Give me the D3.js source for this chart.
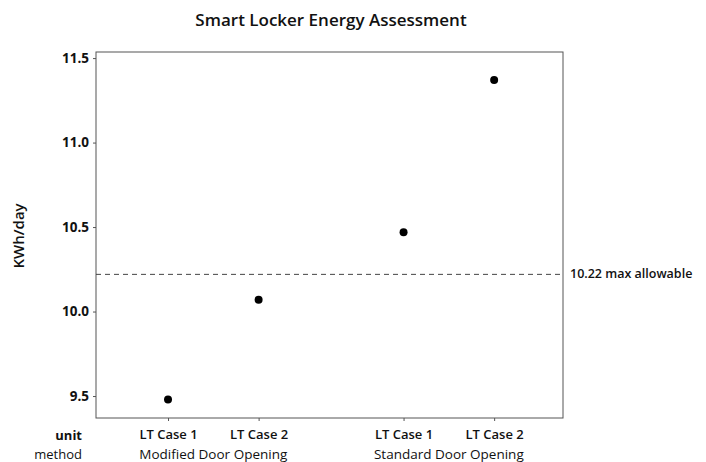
<html>
<head>
<meta charset="utf-8">
<script src="https://cdn.jsdelivr.net/npm/d3@7"></script>
<style>
  body { margin: 0; background: #fff; }
  text { font-family: "Open Sans", sans-serif; fill: #111; }
</style>
</head>
<body>
<script>
// data
var units   = ["LT Case 1", "LT Case 2", "LT Case 1", "LT Case 2"];
var methods = ["Modified Door Opening", "Modified Door Opening", "Standard Door Opening", "Standard Door Opening"];
var kwh     = [9.48, 10.07, 10.47, 11.37];
var slots   = [0, 1, 2.6, 3.6];          // minitab-style group spacing
var yTicks  = [9.5, 10.0, 10.5, 11.0, 11.5];
var refLine = 10.22;

var width = 706, height = 462;
var m = {left: 96, right: 563, top: 52, bottom: 418};

var svg = d3.select("body").append("svg")
    .attr("width", width)
    .attr("height", height);

var x = d3.scaleLinear().domain([-0.795, 4.36]).range([m.left, m.right]);
var y = d3.scaleLinear().domain([9.37, 11.536]).range([m.bottom, m.top]);

// title
svg.append("text")
    .attr("x", 331).attr("y", 26)
    .attr("text-anchor", "middle")
    .attr("font-size", 17)
    .attr("font-weight", 600)
    .text("Smart Locker Energy Assessment");

// frame
svg.append("rect")
    .attr("x", m.left).attr("y", m.top)
    .attr("width", m.right - m.left).attr("height", m.bottom - m.top)
    .attr("fill", "none")
    .attr("stroke", "#555")
    .attr("stroke-width", 1);

// y axis
var yAxis = d3.axisLeft(y).tickValues(yTicks).tickFormat(d3.format(".1f")).tickSize(3).tickPadding(4);
var gy = svg.append("g").attr("transform", "translate(" + m.left + ",0)").call(yAxis);
gy.select(".domain").remove();
gy.selectAll("line").attr("stroke", "#555");
gy.selectAll("text").attr("font-size", 13.5).attr("font-weight", 700)
    .style("font-family", "'Open Sans', sans-serif").attr("fill", "#111");

// x axis ticks (unit labels)
var xAxis = d3.axisBottom(x).tickValues(slots).tickFormat((d, i) => units[i]).tickSize(3).tickPadding(9);
var gx = svg.append("g").attr("transform", "translate(0," + m.bottom + ")").call(xAxis);
gx.select(".domain").remove();
gx.selectAll("line").attr("stroke", "#555");
gx.selectAll("text").attr("font-size", 13).attr("font-weight", 600)
    .style("font-family", "'Open Sans', sans-serif").attr("fill", "#111");

// method labels, centred under each group
var groups = d3.groups(slots.map((s, i) => ({s: s, m: methods[i]})), d => d.m);
svg.selectAll(".method")
    .data(groups)
    .join("text")
    .attr("class", "method")
    .attr("x", d => x(d3.mean(d[1], e => e.s)))
    .attr("y", 459)
    .attr("text-anchor", "middle")
    .attr("font-size", 13.5)
    .text(d => d[0]);

// row labels
svg.append("text").attr("x", 82).attr("y", 440).attr("text-anchor", "end")
    .attr("font-size", 13).attr("font-weight", 700).text("unit");
svg.append("text").attr("x", 82).attr("y", 459).attr("text-anchor", "end")
    .attr("font-size", 13).text("method");

// y title
svg.append("text")
    .attr("transform", "translate(24," + 236 + ") rotate(-90)")
    .attr("text-anchor", "middle")
    .attr("font-size", 15)
    .attr("font-weight", 600)
    .text("KWh/day");

// reference line
svg.append("line")
    .attr("x1", m.left).attr("x2", m.right)
    .attr("y1", y(refLine)).attr("y2", y(refLine))
    .attr("stroke", "#444")
    .attr("stroke-dasharray", "5,4");
svg.append("text")
    .attr("x", m.right + 7).attr("y", y(refLine) + 4)
    .attr("font-size", 12.5).attr("font-weight", 600)
    .text(refLine + " max allowable");

// points
svg.selectAll("circle")
    .data(kwh)
    .join("circle")
    .attr("cx", (d, i) => x(slots[i]))
    .attr("cy", d => y(d))
    .attr("r", 4)
    .attr("fill", "#000");
</script>
</body>
</html>
